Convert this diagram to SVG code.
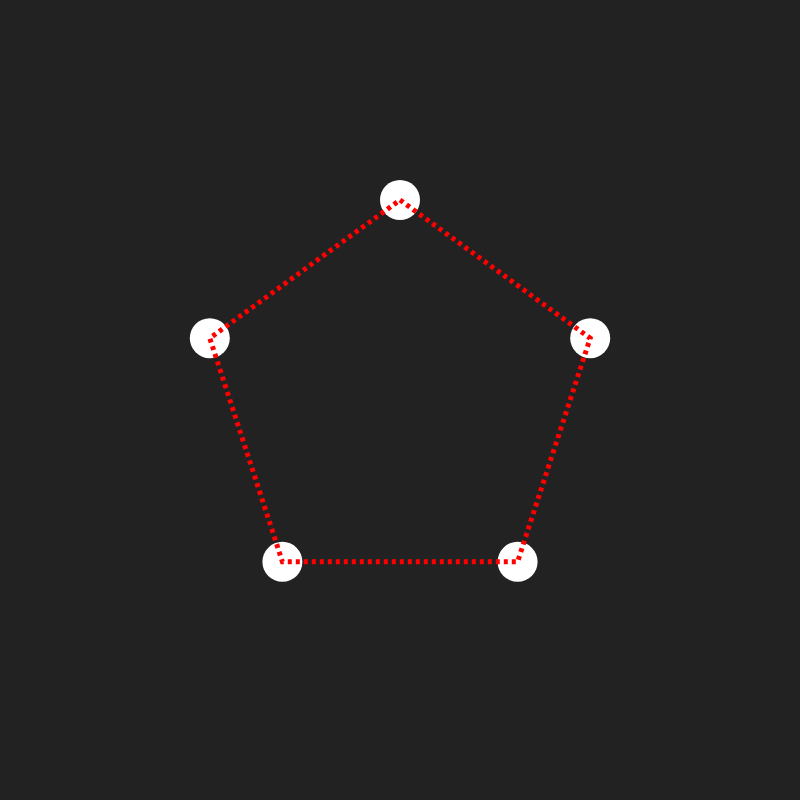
<svg xmlns="http://www.w3.org/2000/svg" width="800" height="800" viewBox="0 0 800 800">
<style>
.node{fill:#ffffff}
.edge{fill:none;stroke:#ff0000;stroke-width:5;stroke-dasharray:4 4}
</style>
<rect width="800" height="800" fill="#222222"/>
<g id="n1"><circle class="node" cx="400" cy="200" r="20"/></g>
<g id="n2"><circle class="node" cx="590.2" cy="338.2" r="20"/></g>
<g id="n3"><circle class="node" cx="517.6" cy="561.8" r="20"/></g>
<g id="n4"><circle class="node" cx="282.4" cy="561.8" r="20"/></g>
<g id="n5"><circle class="node" cx="209.8" cy="338.2" r="20"/></g>
<g id="connectors">
<path class="edge" d="M400,200 L590.2,338.2 L517.6,561.8 L282.4,561.8 L209.8,338.2 Z"/>
</g>
</svg>
